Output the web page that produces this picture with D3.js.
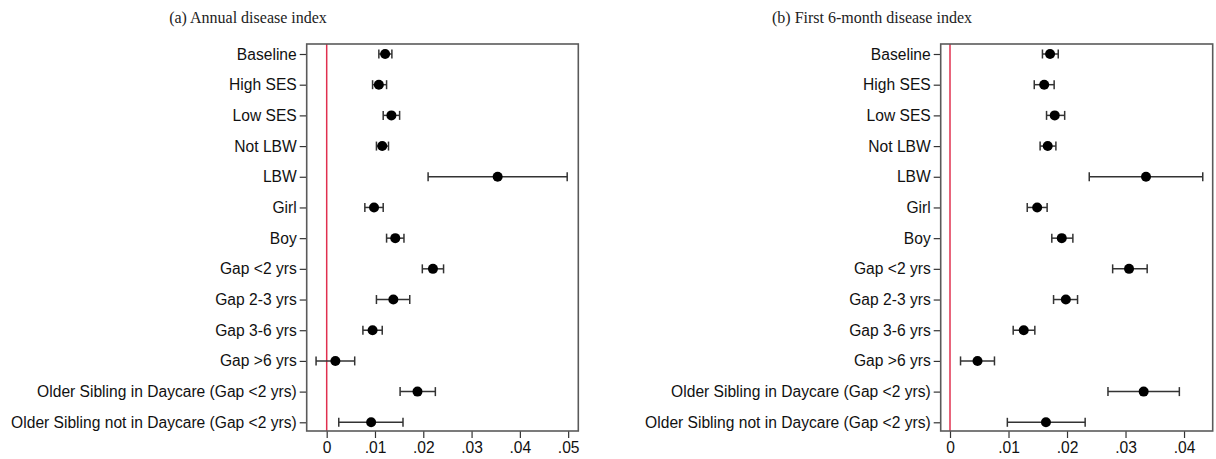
<!DOCTYPE html>
<html>
<head>
<meta charset="utf-8">
<script src="https://cdn.jsdelivr.net/npm/d3@7"></script>
<style>
  body { margin: 0; background: #fff; }
  svg { display: block; }
</style>
</head>
<body>
<div id="root"></div>
<script>
var categories = ["Baseline", "High SES", "Low SES", "Not LBW", "LBW", "Girl", "Boy",
    "Gap <2 yrs", "Gap 2-3 yrs", "Gap 3-6 yrs", "Gap >6 yrs",
    "Older Sibling in Daycare (Gap <2 yrs)", "Older Sibling not in Daycare (Gap <2 yrs)"];

// (a) annual index: estimate and 95% CI
var annualEst = [0.0121, 0.0108, 0.0134, 0.0115, 0.0354, 0.0098, 0.0142, 0.0220, 0.0138, 0.0095, 0.0018, 0.0188, 0.0092];
var annualLo  = [0.0108, 0.0095, 0.0117, 0.0103, 0.0210, 0.0079, 0.0124, 0.0198, 0.0103, 0.0075, -0.0022, 0.0152, 0.0025];
var annualHi  = [0.0135, 0.0124, 0.0151, 0.0128, 0.0498, 0.0117, 0.0160, 0.0242, 0.0172, 0.0115, 0.0058, 0.0225, 0.0158];

// (b) first 6-month index
var sixEst = [0.0171, 0.0161, 0.0179, 0.0167, 0.0335, 0.0149, 0.0191, 0.0306, 0.0198, 0.0126, 0.0047, 0.0331, 0.0164];
var sixLo  = [0.0158, 0.0144, 0.0165, 0.0154, 0.0238, 0.0132, 0.0174, 0.0278, 0.0177, 0.0108, 0.0018, 0.0270, 0.0098];
var sixHi  = [0.0185, 0.0178, 0.0196, 0.0181, 0.0432, 0.0166, 0.0210, 0.0337, 0.0218, 0.0145, 0.0076, 0.0392, 0.0231];

var annualTicks = [0, 0.01, 0.02, 0.03, 0.04, 0.05];
var sixTicks = [0, 0.01, 0.02, 0.03, 0.04];

var svg = d3.select("#root")
    .append("svg")
    .attr("width", 1216)
    .attr("height", 459);

var fmt = function (d) {
    return d === 0 ? "0" : d3.format(".2f")(d).replace(/^0\./, ".");
};

function panel(opt) {
    var x = d3.scaleLinear().domain(opt.xdom).range([opt.left, opt.right]);
    var y = d3.scalePoint().domain(categories).range([54, 422.3]);

    var g = svg.append("g");

    // title
    g.append("text")
        .attr("x", opt.titleX)
        .attr("y", 23)
        .attr("text-anchor", "middle")
        .attr("font-family", "'Liberation Serif', 'DejaVu Serif', serif")
        .attr("font-size", 16)
        .attr("fill", "#222")
        .text(opt.title);

    // zero line
    g.append("line")
        .attr("x1", x(0)).attr("x2", x(0))
        .attr("y1", 44).attr("y2", 431)
        .attr("stroke", "#e0304f")
        .attr("stroke-width", 1.5);

    var rows = categories.map(function (c, i) {
        return { cat: c, est: opt.est[i], lo: opt.lo[i], hi: opt.hi[i] };
    });

    var r = g.selectAll("g.row")
        .data(rows)
        .enter()
        .append("g")
        .attr("class", "row");

    r.append("line")
        .attr("x1", function (d) { return x(d.lo); })
        .attr("x2", function (d) { return x(d.hi); })
        .attr("y1", function (d) { return y(d.cat); })
        .attr("y2", function (d) { return y(d.cat); })
        .attr("stroke", "#333")
        .attr("stroke-width", 1.5);

    ["lo", "hi"].forEach(function (k) {
        r.append("line")
            .attr("x1", function (d) { return x(d[k]); })
            .attr("x2", function (d) { return x(d[k]); })
            .attr("y1", function (d) { return y(d.cat) - 4.5; })
            .attr("y2", function (d) { return y(d.cat) + 4.5; })
            .attr("stroke", "#333")
            .attr("stroke-width", 1.5);
    });

    r.append("circle")
        .attr("cx", function (d) { return x(d.est); })
        .attr("cy", function (d) { return y(d.cat); })
        .attr("r", 5)
        .attr("fill", "#000");

    // axes
    var ya = g.append("g")
        .attr("transform", "translate(" + opt.left + ",0)")
        .call(d3.axisLeft(y).tickSize(7).tickPadding(3));
    ya.select(".domain").remove();

    var xa = g.append("g")
        .attr("transform", "translate(0,431)")
        .call(d3.axisBottom(x).tickValues(opt.ticks).tickFormat(fmt).tickSize(7).tickPadding(4));
    xa.select(".domain").remove();

    [ya, xa].forEach(function (a) {
        a.selectAll(".tick line").attr("stroke", "#333").attr("stroke-width", 1.2);
        a.selectAll(".tick text")
            .attr("font-family", "'Liberation Sans', Arial, sans-serif")
            .attr("font-size", 15.6)
            .attr("fill", "#111");
    });

    // frame
    g.append("rect")
        .attr("x", opt.left)
        .attr("y", 44)
        .attr("width", opt.right - opt.left)
        .attr("height", 387)
        .attr("fill", "none")
        .attr("stroke", "#5a5a5a")
        .attr("stroke-width", 1.6);
}

panel({
    title: "(a) Annual disease index", titleX: 248,
    left: 306.7, right: 578.3, xdom: [-0.00414, 0.0521],
    est: annualEst, lo: annualLo, hi: annualHi, ticks: annualTicks
});

panel({
    title: "(b) First 6-month disease index", titleX: 872,
    left: 940.7, right: 1212.7, xdom: [-0.00159, 0.0449],
    est: sixEst, lo: sixLo, hi: sixHi, ticks: sixTicks
});
</script>
</body>
</html>
